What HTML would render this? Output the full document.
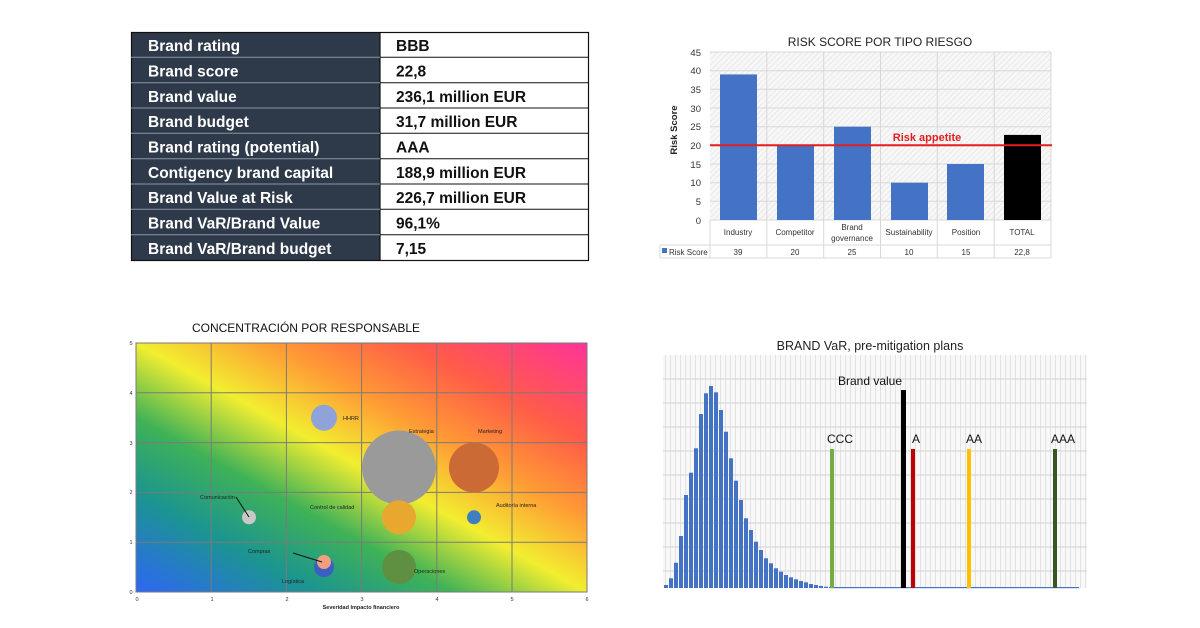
<!DOCTYPE html>
<html><head><meta charset="utf-8"><style>
body{margin:0;background:#fff;width:1200px;height:628px;overflow:hidden}
svg{display:block;font-family:"Liberation Sans",sans-serif}
</style></head><body>
<svg width="1200" height="628" viewBox="0 0 1200 628" xmlns="http://www.w3.org/2000/svg">
<defs>
<pattern id="hatch" width="4" height="4" patternUnits="userSpaceOnUse" patternTransform="rotate(45)">
<rect width="4" height="4" fill="#f7f7f7"/><line x1="0" y1="0" x2="0" y2="4" stroke="#dcdcdc" stroke-width="1"/></pattern>
<pattern id="vgrid" width="5" height="10" patternUnits="userSpaceOnUse">
<rect width="5" height="10" fill="#f8f8f8"/><line x1="0.5" y1="0" x2="0.5" y2="10" stroke="#e2e2e2" stroke-width="1"/></pattern>
<linearGradient id="heat" x1="0" y1="1" x2="1" y2="0">
<stop offset="0" stop-color="#2f66f5"/>
<stop offset="0.2" stop-color="#1b9590"/>
<stop offset="0.35" stop-color="#3fb257"/>
<stop offset="0.5" stop-color="#f2ee30"/>
<stop offset="0.65" stop-color="#ff9a35"/>
<stop offset="0.8" stop-color="#ff5c48"/>
<stop offset="1" stop-color="#ff3399"/>
</linearGradient>
</defs>

<!-- TABLE -->
<rect x="131" y="32" width="249" height="228" fill="#2e3a4a"/>
<rect x="380" y="32" width="209" height="228" fill="#fff"/>
<g stroke="#111" stroke-width="1.2" fill="none">
<rect x="131.5" y="32.5" width="457" height="228"/>
<line x1="380" y1="32" x2="380" y2="260"/>
</g>
<g stroke="#111" stroke-width="1">
<line x1="380" y1="57.3" x2="589" y2="57.3"/><line x1="380" y1="82.7" x2="589" y2="82.7"/><line x1="380" y1="108" x2="589" y2="108"/><line x1="380" y1="133.3" x2="589" y2="133.3"/><line x1="380" y1="158.7" x2="589" y2="158.7"/><line x1="380" y1="184" x2="589" y2="184"/><line x1="380" y1="209.3" x2="589" y2="209.3"/><line x1="380" y1="234.7" x2="589" y2="234.7"/>
</g>
<g stroke="#8a96a6" stroke-width="1">
<line x1="131" y1="57.3" x2="380" y2="57.3"/><line x1="131" y1="82.7" x2="380" y2="82.7"/><line x1="131" y1="108" x2="380" y2="108"/><line x1="131" y1="133.3" x2="380" y2="133.3"/><line x1="131" y1="158.7" x2="380" y2="158.7"/><line x1="131" y1="184" x2="380" y2="184"/><line x1="131" y1="209.3" x2="380" y2="209.3"/><line x1="131" y1="234.7" x2="380" y2="234.7"/>
</g>
<g font-size="15.5" font-weight="bold" fill="#fff">
<text x="148" y="51">Brand rating</text><text x="148" y="76.5">Brand score</text><text x="148" y="102">Brand value</text><text x="148" y="127">Brand budget</text><text x="148" y="152.5">Brand rating (potential)</text><text x="148" y="178">Contigency brand capital</text><text x="148" y="203">Brand Value at Risk</text><text x="148" y="228.5">Brand VaR/Brand Value</text><text x="148" y="254">Brand VaR/Brand budget</text>
</g>
<g font-size="15.5" font-weight="bold" fill="#111">
<text x="396" y="51">BBB</text><text x="396" y="76.5">22,8</text><text x="396" y="102">236,1 million EUR</text><text x="396" y="127">31,7 million EUR</text><text x="396" y="152.5">AAA</text><text x="396" y="178">188,9 million EUR</text><text x="396" y="203">226,7 million EUR</text><text x="396" y="228.5">96,1%</text><text x="396" y="254">7,15</text>
</g>

<!-- BAR CHART -->
<text x="880" y="46" font-size="12" text-anchor="middle" fill="#222">RISK SCORE POR TIPO RIESGO</text>
<rect x="710" y="52" width="341" height="168" fill="url(#hatch)"/>
<g stroke="#d8d8d8" stroke-width="1">
<line x1="710" y1="52" x2="1051" y2="52"/><line x1="710" y1="70.7" x2="1051" y2="70.7"/><line x1="710" y1="89.3" x2="1051" y2="89.3"/><line x1="710" y1="108" x2="1051" y2="108"/><line x1="710" y1="126.7" x2="1051" y2="126.7"/><line x1="710" y1="145.3" x2="1051" y2="145.3"/><line x1="710" y1="164" x2="1051" y2="164"/><line x1="710" y1="182.7" x2="1051" y2="182.7"/><line x1="710" y1="201.3" x2="1051" y2="201.3"/>
<line x1="766.8" y1="52" x2="766.8" y2="258"/><line x1="823.7" y1="52" x2="823.7" y2="258"/><line x1="880.5" y1="52" x2="880.5" y2="258"/><line x1="937.3" y1="52" x2="937.3" y2="258"/><line x1="994.2" y1="52" x2="994.2" y2="258"/><line x1="1051" y1="52" x2="1051" y2="258"/><line x1="710" y1="220" x2="710" y2="258"/>
<line x1="710" y1="220" x2="1051" y2="220"/><line x1="660" y1="245" x2="1051" y2="245"/><line x1="660" y1="258" x2="1051" y2="258"/><line x1="660" y1="245" x2="660" y2="258"/>
</g>
<g fill="#4472c4">
<rect x="720" y="74.4" width="37" height="145.6"/><rect x="777" y="145.3" width="37" height="74.7"/><rect x="834" y="126.7" width="37" height="93.3"/><rect x="891" y="182.7" width="37" height="37.3"/><rect x="947" y="164" width="37" height="56"/>
</g>
<rect x="1004" y="134.9" width="37" height="85.1" fill="#000"/>
<line x1="710" y1="145.3" x2="1052" y2="145.3" stroke="#e02020" stroke-width="2"/>
<text x="927" y="141" font-size="11" font-weight="bold" fill="#e02020" text-anchor="middle">Risk appetite</text>
<g font-size="9.5" fill="#333" text-anchor="end">
<text x="701" y="56">45</text><text x="701" y="74">40</text><text x="701" y="93">35</text><text x="701" y="112">30</text><text x="701" y="130">25</text><text x="701" y="149">20</text><text x="701" y="168">15</text><text x="701" y="186">10</text><text x="701" y="205">5</text><text x="701" y="224">0</text>
</g>
<text transform="translate(677,130) rotate(-90)" font-size="9.5" font-weight="bold" text-anchor="middle" fill="#222">Risk Score</text>
<g font-size="8" fill="#333" text-anchor="middle">
<text x="738" y="235">Industry</text><text x="795" y="235">Competitor</text><text x="852" y="230">Brand</text><text x="852" y="241">governance</text><text x="909" y="235">Sustainability</text><text x="966" y="235">Position</text><text x="1022" y="235">TOTAL</text>
<text x="738" y="255">39</text><text x="795" y="255">20</text><text x="852" y="255">25</text><text x="909" y="255">10</text><text x="966" y="255">15</text><text x="1022" y="255">22,8</text>
</g>
<rect x="662" y="248" width="5" height="5" fill="#4472c4"/>
<text x="669" y="255" font-size="8" fill="#333">Risk Score</text>

<!-- BUBBLE CHART -->
<text x="306" y="332" font-size="12" text-anchor="middle" fill="#111">CONCENTRACIÓN POR RESPONSABLE</text>
<rect x="136" y="343" width="451" height="249" fill="url(#heat)"/>
<g stroke="#7a7a7a" stroke-width="1" fill="none">
<rect x="136" y="343" width="451" height="249"/>
<line x1="211.2" y1="343" x2="211.2" y2="592"/><line x1="286.4" y1="343" x2="286.4" y2="592"/><line x1="361.6" y1="343" x2="361.6" y2="592"/><line x1="436.8" y1="343" x2="436.8" y2="592"/><line x1="512" y1="343" x2="512" y2="592"/>
<line x1="136" y1="392.8" x2="587" y2="392.8"/><line x1="136" y1="442.6" x2="587" y2="442.6"/><line x1="136" y1="492.4" x2="587" y2="492.4"/><line x1="136" y1="542.2" x2="587" y2="542.2"/>
</g>
<circle cx="324" cy="417.7" r="13" fill="#8fa3d8"/>
<circle cx="399" cy="467.5" r="37" fill="#9a9a9a"/>
<circle cx="474" cy="467.5" r="25" fill="#cc6a35"/>
<circle cx="474" cy="517.3" r="7" fill="#3f7fc0"/>
<circle cx="399" cy="517.3" r="17" fill="#e8a830"/>
<circle cx="399" cy="567" r="17" fill="#5f8f40"/>
<circle cx="249" cy="517.3" r="7" fill="#c8c8c8"/>
<circle cx="324" cy="567" r="10" fill="#3b5fc0"/>
<circle cx="324" cy="562" r="7" fill="#f0a080"/>
<g stroke="#111" stroke-width="1">
<line x1="236" y1="497" x2="249" y2="517"/><line x1="293" y1="553" x2="322" y2="562"/>
</g>
<g font-size="5.5" fill="#222">
<text x="343" y="420">HHRR</text><text x="409" y="433">Estrategia</text><text x="478" y="433">Marketing</text><text x="496" y="507">Auditoría interna</text><text x="310" y="509">Control de calidad</text><text x="200" y="499">Comunicación</text><text x="248" y="553">Compras</text><text x="282" y="583">Logística</text><text x="414" y="573">Operaciones</text>
</g>
<g font-size="5.5" fill="#333" text-anchor="middle">
<text x="137" y="601">0</text><text x="212" y="601">1</text><text x="287" y="601">2</text><text x="362" y="601">3</text><text x="437" y="601">4</text><text x="512" y="601">5</text><text x="587" y="601">6</text>
<text x="131" y="594">0</text><text x="131" y="544">1</text><text x="131" y="494">2</text><text x="131" y="445">3</text><text x="131" y="395">4</text><text x="131" y="345">5</text>
</g>
<text x="361" y="609" font-size="5.5" font-weight="bold" text-anchor="middle" fill="#222">Severidad Impacto financiero</text>

<!-- HISTOGRAM -->
<text x="870" y="350" font-size="12.5" text-anchor="middle" fill="#222">BRAND VaR, pre-mitigation plans</text>
<rect x="663" y="355" width="424" height="233" fill="url(#vgrid)"/>
<g stroke="#d2d2d2" stroke-width="1">
<line x1="663" y1="379" x2="1087" y2="379"/><line x1="663" y1="403" x2="1087" y2="403"/><line x1="663" y1="427" x2="1087" y2="427"/><line x1="663" y1="451" x2="1087" y2="451"/><line x1="663" y1="475" x2="1087" y2="475"/><line x1="663" y1="499" x2="1087" y2="499"/><line x1="663" y1="523" x2="1087" y2="523"/><line x1="663" y1="547" x2="1087" y2="547"/><line x1="663" y1="571" x2="1087" y2="571"/>
</g>
<g fill="#4472c4">
<rect x="664" y="585" width="4" height="3"/><rect x="669" y="578.3" width="4" height="9.7"/><rect x="674" y="562.7" width="4" height="25.3"/><rect x="679" y="536" width="4" height="52"/><rect x="684" y="495" width="4" height="93"/><rect x="689" y="472.7" width="4" height="115.3"/><rect x="694" y="448.3" width="4" height="139.7"/><rect x="699" y="414" width="4" height="174"/><rect x="704" y="393.3" width="4" height="194.7"/><rect x="709" y="386" width="4" height="202"/><rect x="714" y="392.3" width="4" height="195.7"/><rect x="719" y="410" width="4" height="178"/><rect x="724" y="431.7" width="4" height="156.3"/><rect x="729" y="458.3" width="4" height="129.7"/><rect x="734" y="480.7" width="4" height="107.3"/><rect x="739" y="500" width="4" height="88"/><rect x="744" y="518.3" width="4" height="69.7"/><rect x="749" y="530" width="4" height="58"/><rect x="754" y="541.7" width="4" height="46.3"/><rect x="759" y="550" width="4" height="38"/><rect x="764" y="558.3" width="4" height="29.7"/><rect x="769" y="563.3" width="4" height="24.7"/><rect x="774" y="568.3" width="4" height="19.7"/><rect x="779" y="571.7" width="4" height="16.3"/><rect x="784" y="575" width="4" height="13"/><rect x="789" y="577.3" width="4" height="10.7"/><rect x="794" y="579.3" width="4" height="8.7"/><rect x="799" y="581" width="4" height="7"/><rect x="804" y="582.3" width="4" height="5.7"/><rect x="809" y="584" width="4" height="4"/><rect x="814" y="585" width="4" height="3"/><rect x="819" y="586" width="4" height="2"/><rect x="824" y="586.7" width="4" height="1.3"/>
<rect x="829" y="587" width="250" height="1.2"/>
</g>
<rect x="830" y="449" width="4" height="139" fill="#70ad47"/>
<rect x="901" y="390" width="5" height="198" fill="#000"/>
<rect x="911" y="449" width="4" height="139" fill="#c00000"/>
<rect x="967" y="449" width="4" height="139" fill="#ffc000"/>
<rect x="1053" y="449" width="4" height="139" fill="#375623"/>
<g font-size="12" fill="#111">
<text x="870" y="385" text-anchor="middle">Brand value</text>
<text x="840" y="443" text-anchor="middle">CCC</text>
<text x="916" y="443" text-anchor="middle">A</text>
<text x="974" y="443" text-anchor="middle">AA</text>
<text x="1063" y="443" text-anchor="middle">AAA</text>
</g>
</svg>
</body></html>
